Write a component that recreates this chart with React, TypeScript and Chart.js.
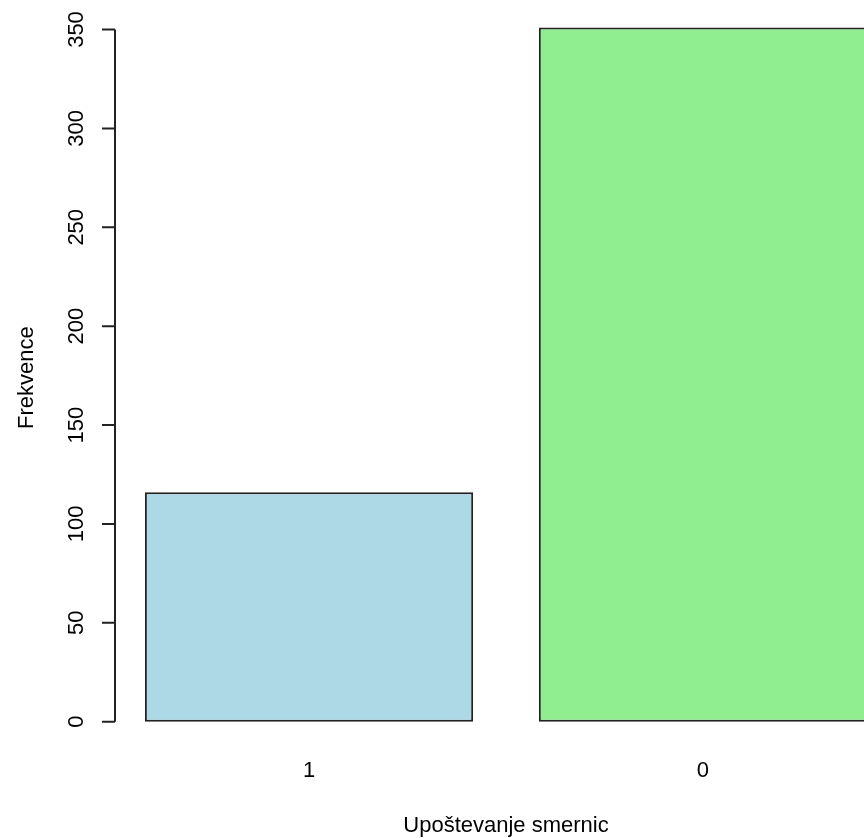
import React, { useEffect, useRef } from "react";
import { Chart, registerables } from "chart.js";

Chart.register(...registerables);

const categories: string[] = ["1", "0"];
const values: number[] = [116, 351];
const barColors: string[] = ["#ADD8E6", "#90EE90"];
const yTicks: number[] = [0, 50, 100, 150, 200, 250, 300, 350];
const xTitle = "Upoštevanje smernic";
const yTitle = "Frekvence";

// R barplot geometry: width 1, space 0.2
const space = 0.2;
const mids = categories.map((_, i) => space + i * (1 + space) + 0.5);
const xLeft = space;
const xRight = space + categories.length * (1 + space) - space;
const xExt = (xRight - xLeft) * 0.04;

const FONT = '22px "Liberation Sans", Arial, sans-serif';
const INK = "#222";

const rAxes = {
  id: "rAxes",
  afterDraw(chart: any) {
    const ctx = chart.ctx as CanvasRenderingContext2D;
    const xs = chart.scales.x;
    const ys = chart.scales.y;
    const area = chart.chartArea;
    ctx.save();
    ctx.strokeStyle = INK;
    ctx.lineWidth = 2;
    const ax = area.left - 1;
    const y0 = ys.getPixelForValue(yTicks[0]);
    const y1 = ys.getPixelForValue(yTicks[yTicks.length - 1]);
    ctx.beginPath();
    ctx.moveTo(ax, y0);
    ctx.lineTo(ax, y1);
    yTicks.forEach((t) => {
      const py = ys.getPixelForValue(t);
      ctx.moveTo(ax, py);
      ctx.lineTo(ax - 13, py);
    });
    ctx.stroke();

    ctx.fillStyle = "#000";
    ctx.font = FONT;
    ctx.textAlign = "center";
    ctx.textBaseline = "alphabetic";
    yTicks.forEach((t) => {
      const py = ys.getPixelForValue(t);
      ctx.save();
      ctx.translate(83, py);
      ctx.rotate(-Math.PI / 2);
      ctx.fillText(String(t), 0, 0);
      ctx.restore();
    });

    categories.forEach((c, i) => {
      const px = xs.getPixelForValue(mids[i]);
      ctx.fillText(c, px, 777);
    });

    ctx.fillText(xTitle, (area.left + area.right) / 2, 832);

    ctx.save();
    ctx.translate(33, (area.top + area.bottom) / 2 + 2);
    ctx.rotate(-Math.PI / 2);
    ctx.fillText(yTitle, 0, 0);
    ctx.restore();

    ctx.restore();
  },
};

export default function App() {
  const ref = useRef<HTMLCanvasElement | null>(null);
  useEffect(() => {
    if (!ref.current) return;
    const chart = new Chart(ref.current, {
      type: "bar",
      data: {
        datasets: [
          {
            data: categories.map((_, i) => ({ x: mids[i], y: values[i] })),
            backgroundColor: barColors,
            borderColor: INK,
            borderWidth: 2,
            borderSkipped: false,
            barPercentage: 1 / (1 + space),
            categoryPercentage: 1,
            clip: false,
          } as any,
        ],
      },
      options: {
        animation: false,
        responsive: false,
        devicePixelRatio: 1,
        layout: { padding: { left: 116, right: 0, top: 29.5, bottom: 116.3 } },
        plugins: { legend: { display: false }, tooltip: { enabled: false } },
        scales: {
          x: {
            type: "linear",
            display: false,
            offset: false,
            grid: { offset: false },
            min: xLeft - xExt,
            max: xRight + xExt,
            afterBuildTicks: (s: any) => {
              s.ticks = mids.map((v) => ({ value: v }));
            },
          },
          y: {
            type: "linear",
            display: false,
            min: yTicks[0],
            max: yTicks[yTicks.length - 1],
          },
        },
      },
      plugins: [rAxes],
    });
    return () => chart.destroy();
  }, []);
  return (
    <div
      style={{
        position: "fixed",
        left: 0,
        top: 0,
        width: 864,
        height: 838,
        overflow: "hidden",
        background: "#fff",
      }}
    >
      <canvas ref={ref} width={896} height={838} style={{ width: 896, height: 838, display: "block" }} />
    </div>
  );
}
